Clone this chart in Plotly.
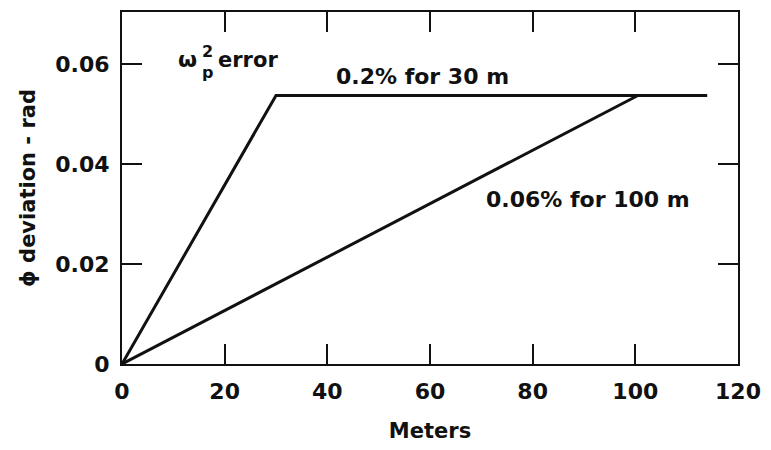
import plotly.graph_objects as go

# Data
x_30m = [0, 30, 114]
y_30m = [0, 0.0537, 0.0537]
x_100m = [0, 100.5]
y_100m = [0, 0.0537]

x_ticks = [0, 20, 40, 60, 80, 100, 120]
x_ticktext = ["0", "20", "40", "60", "80", "100", "120"]
y_ticks = [0, 0.02, 0.04, 0.06]
y_ticktext = ["0", "0.02", "0.04", "0.06"]

FONT = "DejaVu Sans"
INK = "#111111"

fig = go.Figure()
fig.add_trace(go.Scatter(x=x_30m, y=y_30m, mode="lines",
                         line=dict(color=INK, width=3), showlegend=False))
fig.add_trace(go.Scatter(x=x_100m, y=y_100m, mode="lines",
                         line=dict(color=INK, width=3), showlegend=False))

axis_common = dict(
    showline=True, linecolor=INK, linewidth=2, mirror="ticks",
    ticks="inside", ticklen=20, tickwidth=1.5, tickcolor=INK,
    showgrid=False, zeroline=False,
    tickfont=dict(family=FONT, size=22, color=INK, weight="bold"),
)

fig.update_xaxes(range=[0, 120], tickvals=x_ticks, ticktext=x_ticktext,
                 ticklabelstandoff=7,
                 title=dict(text="Meters", standoff=20,
                            font=dict(family=FONT, size=21, color=INK, weight="bold")),
                 **axis_common)
fig.update_yaxes(range=[0, 0.0704], tickvals=y_ticks, ticktext=y_ticktext,
                 ticklabelstandoff=6,
                 title=dict(text="ϕ deviation - rad", standoff=14,
                            font=dict(family=FONT, size=21, color=INK, weight="bold")),
                 **axis_common)


def px_to_paper(px, py):
    return (px - 122) / (741 - 122), (364 - py) / (364 - 10)


ann_font = dict(family=FONT, size=22, color=INK, weight="bold")
annotations = [
    dict(text="0.2% for 30 m", x=424, y=75, font=ann_font, ya="middle"),
    dict(text="0.06% for 100 m", x=590, y=199, font=ann_font, ya="middle"),
    dict(text="ω", x=188, y=58, font=dict(family=FONT, size=22, color=INK, weight="bold"), ya="middle"),
    dict(text="2", x=208, y=60, font=dict(family=FONT, size=16, color=INK, weight="bold"), ya="bottom"),
    dict(text="p", x=208, y=60, font=dict(family=FONT, size=16, color=INK, weight="bold"), ya="top"),
    dict(text="error", x=249, y=58, font=dict(family=FONT, size=21, color=INK, weight="bold"), ya="middle"),
]
for a in annotations:
    xp, yp = px_to_paper(a["x"], a["y"])
    fig.add_annotation(text=a["text"], xref="paper", yref="paper",
                       x=xp, y=yp, xanchor="center", yanchor=a["ya"],
                       borderpad=0, showarrow=False, font=a["font"])

fig.update_layout(
    width=771, height=450,
    margin=dict(l=122, r=30, t=10, b=86),
    paper_bgcolor="white", plot_bgcolor="white",
)

fig.write_html("out.html")
